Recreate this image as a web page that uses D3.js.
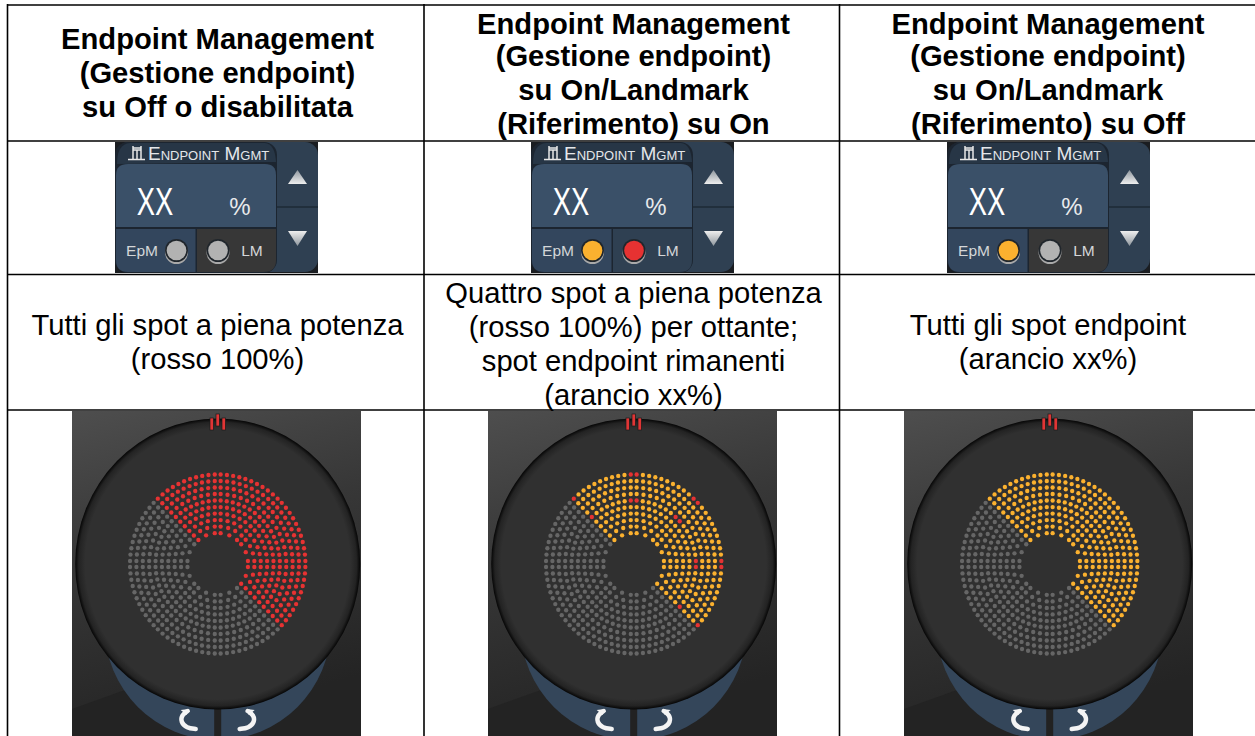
<!DOCTYPE html>
<html>
<head>
<meta charset="utf-8">
<script src="https://cdn.jsdelivr.net/npm/d3@7"></script>
<style>
  html, body { margin: 0; padding: 0; background: #fff; overflow: hidden; }
  text { font-family: "Liberation Sans", Arial, sans-serif; }
</style>
</head>
<body>
<div id="chart"></div>
<script>
const headerLines = [
  ["Endpoint Management", "(Gestione endpoint)", "su Off o disabilitata"],
  ["Endpoint Management", "(Gestione endpoint)", "su On/Landmark", "(Riferimento) su On"],
  ["Endpoint Management", "(Gestione endpoint)", "su On/Landmark", "(Riferimento) su Off"]
];
const bodyLines = [
  ["Tutti gli spot a piena potenza", "(rosso 100%)"],
  ["Quattro spot a piena potenza", "(rosso 100%) per ottante;", "spot endpoint rimanenti", "(arancio xx%)"],
  ["Tutti gli spot endpoint", "(arancio xx%)"]
];
// colour of the two indicator lamps per column
const epmLamp = ["off", "orange", "orange"];
const lmLamp = ["off", "red", "off"];
// treated octants start at -45deg and run clockwise, 4 of them lit
const octants = [0, 1, 2, 3, 4, 5, 6, 7];
const litOctants = [0, 1, 2, 3];
// spots in each ring (inner to outer) for one octant
const ringSpots = [3, 4, 5, 6, 7, 8, 8, 9, 10, 11];
// rings holding the full power spots in the landmark pattern
const landmarkRings = [5, 9];

const colors = { off: "#b2b2b2", orange: "#fbb12f", red: "#e63232", grey: "#666666" };

const width = 1255, height = 736;
const colCenter = [217.5, 633.5, 1048];
const panelX = d3.scaleLinear().domain([0, 1]).range([0, 416]);
const vLines = [7.5, 424, 839.5];
const hLines = [5, 141, 274.5, 410];

const svg = d3.select("#chart").append("svg")
    .attr("width", width)
    .attr("height", height)
    .style("display", "block");

const defs = svg.append("defs");

const bgGrad = defs.append("linearGradient").attr("id", "bg")
    .attr("x1", 0).attr("y1", 0).attr("x2", 0.25).attr("y2", 1);
bgGrad.append("stop").attr("offset", "0%").attr("stop-color", "#4e4e4e");
bgGrad.append("stop").attr("offset", "45%").attr("stop-color", "#373737");
bgGrad.append("stop").attr("offset", "100%").attr("stop-color", "#242424");

const dialGrad = defs.append("radialGradient").attr("id", "dial");
dialGrad.append("stop").attr("offset", "93%").attr("stop-color", "#303030");
dialGrad.append("stop").attr("offset", "97.5%").attr("stop-color", "#232323");
dialGrad.append("stop").attr("offset", "100%").attr("stop-color", "#050505");

const upGrad = defs.append("linearGradient").attr("id", "triUp")
    .attr("x1", 0).attr("y1", 0).attr("x2", 0).attr("y2", 1);
upGrad.append("stop").attr("offset", "0%").attr("stop-color", "#8f979e");
upGrad.append("stop").attr("offset", "100%").attr("stop-color", "#eeeeee");
const downGrad = defs.append("linearGradient").attr("id", "triDown")
    .attr("x1", 0).attr("y1", 0).attr("x2", 0).attr("y2", 1);
downGrad.append("stop").attr("offset", "0%").attr("stop-color", "#eeeeee");
downGrad.append("stop").attr("offset", "100%").attr("stop-color", "#8f979e");

defs.append("clipPath").attr("id", "panelClip")
  .append("rect").attr("x", 72).attr("y", 411).attr("width", 289).attr("height", 325);

// Table text
function drawLines(lines, x, ys, size, weight) {
    svg.append("g").selectAll("text")
        .data(lines)
        .enter().append("text")
        .attr("x", x)
        .attr("y", (d, i) => ys[i])
        .attr("text-anchor", "middle")
        .style("font-size", size + "px")
        .style("font-weight", weight)
        .style("fill", "#000")
        .text(d => d);
}

const headerY = { 3: [49, 83, 117], 4: [34, 66, 100, 134] };
const bodyY = { 2: [335, 369], 4: [303, 337, 371, 405] };

headerLines.forEach((lines, i) => drawLines(lines, colCenter[i], headerY[lines.length], 29.2, "bold"));
bodyLines.forEach((lines, i) => drawLines(lines, colCenter[i], bodyY[lines.length], 29.2, "normal"));

// Endpoint widget, drawn for the first column and shifted for the others
function drawWidget(g, col) {
    g.append("rect").attr("x", 115).attr("y", 142).attr("width", 203).attr("height", 131)
        .attr("fill", "#1a1d21");
    g.append("rect").attr("x", 116).attr("y", 142).attr("width", 202).attr("height", 130).attr("rx", 13)
        .attr("fill", "#2f4052");
    g.append("line").attr("x1", 277).attr("x2", 318).attr("y1", 207).attr("y2", 207)
        .attr("stroke", "#1e2a36").attr("stroke-width", 1.5);

    g.append("rect").attr("x", 115).attr("y", 142).attr("width", 162).attr("height", 131).attr("rx", 13)
        .attr("fill", "#1c2530");
    g.append("path").attr("d", "M117,164 Q117,144 130,143 H265 Q275,144 276,162 Z").attr("fill", "#273646");
    g.append("path").attr("d", "M116,227 V175 Q116,164 128,164 H265 Q276,164 276,175 V227 Z").attr("fill", "#3a5068");
    g.append("path").attr("d", "M116,229 H195.5 V272 H128 Q116,272 116,260 Z").attr("fill", "#33465d");
    g.append("path").attr("d", "M197,229 H276 V260 Q276,272 264,272 H197 Z")
        .attr("fill", lmLamp[col] === "red" ? "#2f4052" : "#373737");

    // connector icon
    g.append("path").attr("d", "M128,159.5 H145 M133,159 V150 H141 V159 M137,150 V159 M133,146 V151 M141,146 V151 M133,148 H141")
        .attr("fill", "none").attr("stroke", "#e8e8e8").attr("stroke-width", 1.5);

    g.append("text").attr("x", 148).attr("y", 160)
        .style("font-size", "19px").style("font-variant", "small-caps").style("fill", "#e4e7ea")
        .text("Endpoint Mgmt");

    g.append("text").attr("transform", "translate(155,215) scale(0.72,1)").attr("text-anchor", "middle")
        .style("font-size", "38px").style("fill", "#fff").text("XX");
    g.append("text").attr("x", 240).attr("y", 215).attr("text-anchor", "middle")
        .style("font-size", "24px").style("fill", "#e8eaec").text("%");

    g.append("text").attr("x", 142).attr("y", 256).attr("text-anchor", "middle")
        .style("font-size", "15.5px").style("fill", "#d4d6d8").text("EpM");
    g.append("text").attr("x", 252).attr("y", 256).attr("text-anchor", "middle")
        .style("font-size", "15.5px").style("fill", "#d4d6d8").text("LM");

    [[176.5, epmLamp[col]], [218, lmLamp[col]]].forEach(l => {
        g.append("circle").attr("cx", l[0]).attr("cy", 252.5).attr("r", 11.5).attr("fill", "#a9a9a9");
        g.append("circle").attr("cx", l[0]).attr("cy", 250.5).attr("r", 11.5).attr("fill", "#20262c");
        g.append("circle").attr("cx", l[0]).attr("cy", 250.5).attr("r", 9.8).attr("fill", colors[l[1]]);
    });

    // up and down buttons
    g.append("path").attr("d", "M297.5,170 L307,184 H288 Z").attr("fill", "url(#triUp)");
    g.append("path").attr("d", "M288,231 H307 L297.5,246 Z").attr("fill", "url(#triDown)");
}

// Dial with the spot pattern
const cx = 217.7, cy = 564;
const ringRadius = d3.scaleLinear().domain([0, ringSpots.length - 1]).range([31, 89.5]);
const octantStart = d3.scaleLinear().domain([0, 8]).range([-45, 315]);

function buildSpots(col) {
    const spots = [];
    octants.forEach(oct => {
        ringSpots.forEach((n, ring) => {
            const inner = ringRadius(ring);
            // half a spot pitch from the octant edges, about 3px on every ring
            const edge = Math.asin(3 / inner) * 180 / Math.PI;
            const a0 = octantStart(oct);
            const a1 = octantStart(oct + 1);
            const angle = d3.scaleLinear().domain([0, n - 1]).range([a0 + edge, a1 - edge]);
            d3.range(n).forEach(k => {
                let c = colors.grey;
                if (litOctants.includes(oct)) {
                    if (col === 0) c = colors.red;
                    if (col === 1) c = (landmarkRings.includes(ring) && (k === 0 || k === n - 1)) ? colors.red : colors.orange;
                    if (col === 2) c = colors.orange;
                }
                spots.push({ r: inner, a: angle(k) * Math.PI / 180, c: c });
            });
        });
    });
    return spots;
}

function drawPanel(g, col) {
    const p = g.append("g").attr("clip-path", "url(#panelClip)");
    p.append("rect").attr("x", 72).attr("y", 411).attr("width", 289).attr("height", 325).attr("fill", "url(#bg)");
    p.append("path").attr("d", "M72,709 L125,690 L361,690 V736 H72 Z").attr("fill", "#232323");
    p.append("circle").attr("cx", cx).attr("cy", 627).attr("r", 113).attr("fill", "#34465a");
    p.append("rect").attr("x", cx - 3.5).attr("y", 700).attr("width", 7).attr("height", 40).attr("fill", "#222");

    p.append("ellipse").attr("cx", cx).attr("cy", cy).attr("rx", 142.5).attr("ry", 145.5).attr("fill", "url(#dial)");

    [[-6, 418, 12], [0, 414, 12], [6, 418, 12]].forEach(b => {
        p.append("rect").attr("x", cx + b[0] - 1.7).attr("y", b[1]).attr("width", 3.4).attr("height", b[2])
            .attr("fill", "#e03535").attr("stroke", "#1a1a1a").attr("stroke-width", 0.7);
    });

    [1, -1].forEach(s => {
        const line = d3.line().curve(d3.curveBasis);
        const pts = [[-30, 147], [-36, 151], [-37, 158], [-31, 164], [-22, 165]]
            .map(q => [cx + s * q[0], cy + q[1]]);
        p.append("path").attr("d", line(pts)).attr("fill", "none").attr("stroke", "#f4f4f4")
            .attr("stroke-width", 4.5).attr("stroke-linecap", "round");
        p.append("path").attr("d", `M${cx + s * -37},${cy + 146} L${cx + s * -29},${cy + 145} L${cx + s * -31},${cy + 151} Z`)
            .attr("fill", "#f4f4f4");
    });

    p.append("g").attr("transform", `translate(${cx},${cy}) scale(0.98,1)`)
        .selectAll("circle")
        .data(buildSpots(col))
        .enter().append("circle")
        .attr("cx", d => d.r * Math.sin(d.a))
        .attr("cy", d => -d.r * Math.cos(d.a))
        .attr("r", 2.2)
        .attr("fill", d => d.c);
}

colCenter.forEach((c, i) => {
    const g = svg.append("g").attr("transform", `translate(${panelX(i)},0)`);
    drawWidget(g.append("g"), i);
    drawPanel(g.append("g"), i);
});

// Table grid goes on top of the images
svg.append("g").selectAll("line")
    .data(vLines)
    .enter().append("line")
    .attr("x1", d => d).attr("x2", d => d)
    .attr("y1", 4).attr("y2", height)
    .attr("stroke", "#000").attr("stroke-width", 1.6);
svg.append("g").selectAll("line")
    .data(hLines)
    .enter().append("line")
    .attr("x1", 7).attr("x2", width)
    .attr("y1", d => d).attr("y2", d => d)
    .attr("stroke", "#000").attr("stroke-width", 1.6);
</script>
</body>
</html>
